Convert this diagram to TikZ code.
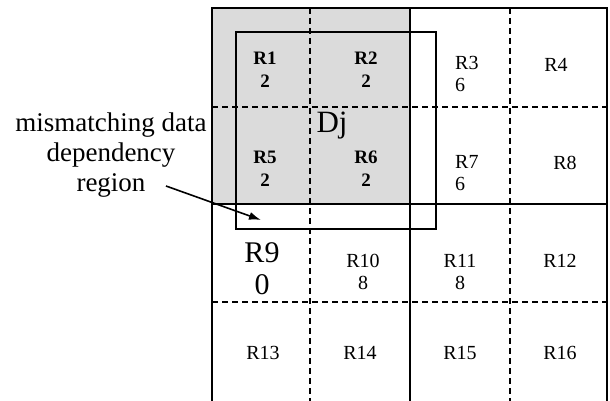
\documentclass[tikz,border=0pt]{standalone}
\usepackage{fontspec}
\setmainfont{Liberation Serif}
\usetikzlibrary{arrows.meta}
\begin{document}
\begin{tikzpicture}[x=1pt,y=-1pt,
  gridline/.style={line width=1.3pt},
  dashline/.style={line width=1.2pt,dash pattern=on 6pt off 4pt},
  cell/.style={font=\fontsize{20}{22}\selectfont,align=center,inner sep=0pt},
  leftcell/.style={cell,align=left,anchor=west},
  boldcell/.style={cell,font=\fontsize{19}{23}\selectfont\bfseries},
  note/.style={font=\fontsize{27}{30}\selectfont,align=center,inner sep=0pt}]
\useasboundingbox (0,0) rectangle (610,401);
% shaded data block
\fill[gray!28] (212,8) rectangle (410,204);
% grid: dashed inner lines
\draw[dashline] (212,107) -- (607,107);
\draw[dashline] (212,302) -- (607,302);
\draw[dashline] (310,8) -- (310,401);
\draw[dashline] (510,8) -- (510,401);
% grid: solid lines
\draw[gridline] (212,401) -- (212,8) -- (607,8) -- (607,401);
\draw[gridline] (410,8) -- (410,401);
\draw[gridline] (212,204) -- (607,204);
% shifted dependency window
\draw[gridline] (236,32) rectangle (436,229);
% cell labels
\node[boldcell] (r1) at (265,70) {R1\\2};
\node[boldcell] (r2) at (366,70) {R2\\2};
\node[leftcell] (r3) at (455,74) {R3\\6};
\node[cell] (r4) at (556,65) {R4};
\node[boldcell] (r5) at (265,169) {R5\\2};
\node[boldcell] (r6) at (366,169) {R6\\2};
\node[leftcell] (r7) at (455,173) {R7\\6};
\node[cell] (r8) at (565,163) {R8};
\node[cell,font=\fontsize{30}{32}\selectfont] (r9) at (262,269) {R9\\0};
\node[cell] (r10) at (363,272) {R10\\8};
\node[cell] (r11) at (460,272) {R11\\8};
\node[cell] (r12) at (560,261) {R12};
\node[cell] (r13) at (263,353) {R13};
\node[cell] (r14) at (360,353) {R14};
\node[cell] (r15) at (460,353) {R15};
\node[cell] (r16) at (560,353) {R16};
\node[inner sep=0pt,font=\fontsize{31}{33}\selectfont] (dj) at (332,126) {Dj};
% annotation
\node[note] (lbl) at (111,155) {mismatching data\\dependency\\region};
\coordinate (tip) at (261,220);
\draw[line width=1.6pt,-{Latex[length=12pt,width=8pt]}] (166,186) -- (tip);
\end{tikzpicture}
\end{document}
